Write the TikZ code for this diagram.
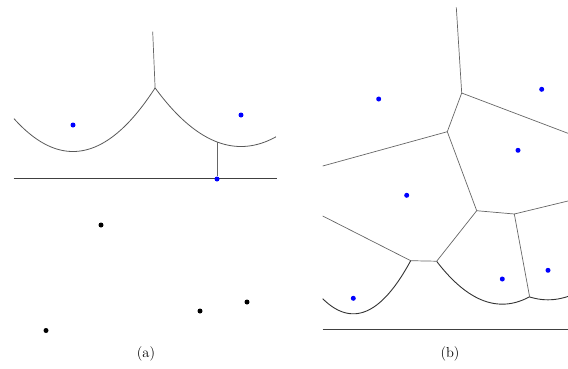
\documentclass[tikz,border=0pt]{standalone}
\begin{document}
\begin{tikzpicture}[x=1pt,y=-1pt,
  edge/.style={draw=black!60,line width=0.7pt},
  arc/.style={draw=black!65,line width=0.8pt},
  arcb/.style={draw=black!80,line width=0.9pt},
  sweep/.style={draw=black!75,line width=0.8pt},
  site/.style={circle,fill=blue,inner sep=0pt,minimum size=5pt},
  pt/.style={circle,fill=black,inner sep=0pt,minimum size=5pt},
  lab/.style={font=\fontsize{14.5}{17}\selectfont}]
\useasboundingbox (0,0) rectangle (568,368);
% ---------- panel (a) ----------
\coordinate (aTop) at (152.7,31.7);
\coordinate (aV) at (155.1,87.9);
\coordinate (aL) at (13.5,178.3);
\coordinate (aR) at (277,178.3);
\coordinate (aW) at (217,141.9);
\draw[edge] (aTop) -- (aV);
\draw[arc] plot[domain=14:155.1,samples=60] (\x,{151.5-(\x-73)^2/106});
\draw[arc] plot[domain=155.1:276,samples=60] (\x,{146.5-(\x-241)^2/126});
\draw[sweep] (aL) -- (aR);
\node[site] (s1) at (73,125) {};
\node[site] (s2) at (241,115) {};
\node[site] (s3) at (217,179) {};
\draw[edge] (aW) -- (s3);
\node[pt] (p1) at (101,225) {};
\node[pt] (p2) at (200,311) {};
\node[pt] (p3) at (247,302) {};
\node[pt] (p4) at (46,330.5) {};
\node[lab] (la) at (146,354) {(a)};
% ---------- panel (b) ----------
\coordinate (bTop) at (456.3,7.3);
\coordinate (V1) at (461.7,93);
\coordinate (R1) at (568,133.3);
\coordinate (V2) at (447.3,131.7);
\coordinate (L1) at (322.7,166);
\coordinate (V3) at (476.7,210.7);
\coordinate (V4) at (514.3,214);
\coordinate (R2) at (568,201);
\coordinate (V5) at (529.6,296.7);
\coordinate (V6) at (436.7,261.2);
\coordinate (V7) at (410.7,260.7);
\coordinate (L2) at (322.7,216);
\coordinate (bL) at (322.7,329.3);
\coordinate (bR) at (568,329.3);
\draw[edge] (bTop) -- (V1);
\draw[edge] (V1) -- (R1);
\draw[edge] (V1) -- (V2);
\draw[edge] (V2) -- (L1);
\draw[edge] (V2) -- (V3);
\draw[edge] (V3) -- (V4);
\draw[edge] (V4) -- (R2);
\draw[edge] (V4) -- (V5);
\draw[edge] (V3) -- (V6);
\draw[edge] (V6) -- (V7);
\draw[edge] (V7) -- (L2);
\draw[arcb] plot[domain=322.7:410.7,samples=60] (\x,{313.8-(\x-353.3)^2/62});
\draw[arcb] plot[domain=436.7:529.6,samples=60] (\x,{304.15-(\x-502.3)^2/100.6});
\draw[arcb] plot[domain=529.6:568,samples=30] (\x,{299.8-(\x-548)^2/118});
\draw[sweep] (bL) -- (bR);
\node[site] (t1) at (378.7,99) {};
\node[site] (t2) at (541.7,89.3) {};
\node[site] (t3) at (518,150.3) {};
\node[site] (t4) at (406.7,195.3) {};
\node[site] (t5) at (353.3,298.3) {};
\node[site] (t6) at (502.3,279) {};
\node[site] (t7) at (548,270.3) {};
\node[lab] (lb) at (450,354) {(b)};
\end{tikzpicture}
\end{document}
